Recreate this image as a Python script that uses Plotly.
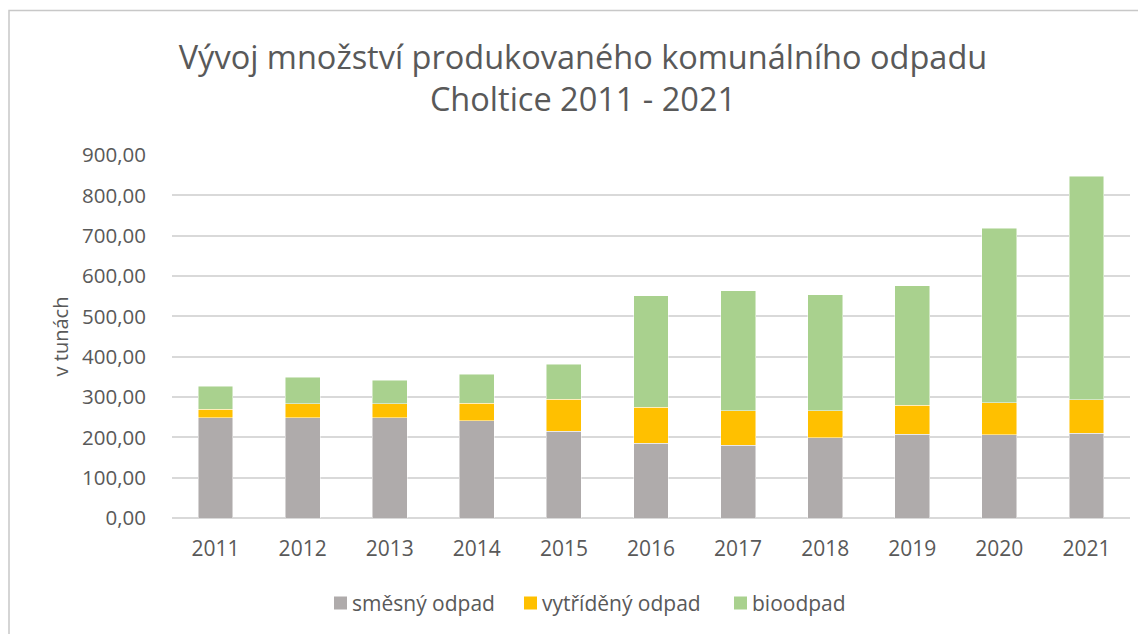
import plotly.graph_objects as go

years = ["2011", "2012", "2013", "2014", "2015", "2016", "2017", "2018", "2019", "2020", "2021"]
smesny = [248, 248, 248, 241, 215, 185, 180, 199, 208, 206, 210]
vytrideny = [22, 35, 35, 44, 80, 89, 86, 67, 72, 80, 83]
bioodpad = [57, 66, 59, 71, 86, 277, 297, 288, 296, 433, 554]
y_ticks = [0, 100, 200, 300, 400, 500, 600, 700, 800, 900]
series_names = ["směsný odpad", "vytříděný odpad", "bioodpad"]
series_colors = ["#AFABAB", "#FFC000", "#A9D18E"]

FONT = "Open Sans"
TXT = "#595959"
OFF = 8  # page body margin of the html page

W, H = 1146, 634
# plot area in page pixels
PL, PR, PT, PB = 172, 1130, 155, 518
L, R, T, B = PL - OFF, W - (PR - OFF), PT - OFF, H - (PB - OFF)
pw, ph = W - L - R, H - T - B


def px(x):  # page px -> paper x
    return (x - OFF - L) / pw


def py(y):  # page px -> paper y
    return (H - B - (y - OFF)) / ph


fig = go.Figure()
for name, vals, col in zip(series_names, [smesny, vytrideny, bioodpad], series_colors):
    fig.add_trace(go.Bar(x=years, y=vals, name=name, showlegend=False,
                         marker=dict(color=col, line=dict(width=0.6, color="rgba(255,255,255,0.8)"))))

# chart frame
fig.add_shape(type="rect", xref="paper", yref="paper",
              x0=px(9), x1=px(1170), y0=py(10.5), y1=py(680),
              line=dict(color="#C8C8C8", width=1.5), fillcolor="rgba(0,0,0,0)", layer="below")

# custom legend
leg_sq_x = [334, 524, 734]
leg_y = 603
for name, col, sx in zip(series_names, series_colors, leg_sq_x):
    fig.add_shape(type="rect", xref="paper", yref="paper",
                  x0=px(sx), x1=px(sx + 13), y0=py(leg_y + 6.5), y1=py(leg_y - 6.5),
                  line=dict(width=0), fillcolor=col)
    fig.add_annotation(text=name, xref="paper", yref="paper", x=px(sx + 16), y=py(leg_y),
                       xanchor="left", yanchor="middle", showarrow=False,
                       font=dict(family=FONT, size=21, color=TXT))

fig.update_layout(
    width=W, height=H,
    barmode="stack", bargap=0.6,
    plot_bgcolor="white", paper_bgcolor="white",
    margin=dict(l=L, r=R, t=T, b=B, autoexpand=False),
    separators=", ",
    font=dict(family=FONT, color=TXT, size=20),
    title=dict(text="Vývoj množství produkovaného komunálního odpadu<br>Choltice 2011 - 2021",
               x=(583 - OFF) / W, xanchor="center", xref="container",
               y=1 - 61 / H, yanchor="top", yref="container",
               font=dict(family=FONT, size=32.5, color=TXT)),
    xaxis=dict(showgrid=False, showline=False, ticks="", ticklabelstandoff=16,
               tickangle=0, tickfont=dict(size=21, color=TXT)),
    yaxis=dict(range=[0, 900], tickvals=y_ticks, tickformat=".2f",
               showgrid=True, gridcolor="#D9D9D9", gridwidth=1.6,
               zeroline=True, zerolinecolor="#D9D9D9", zerolinewidth=1.6,
               showline=False, ticks="", ticklabelstandoff=25,
               tickfont=dict(size=20.5, color=TXT),
               title=dict(text="v tunách", font=dict(size=20, color=TXT), standoff=8)),
)

fig.write_html("out.html")
